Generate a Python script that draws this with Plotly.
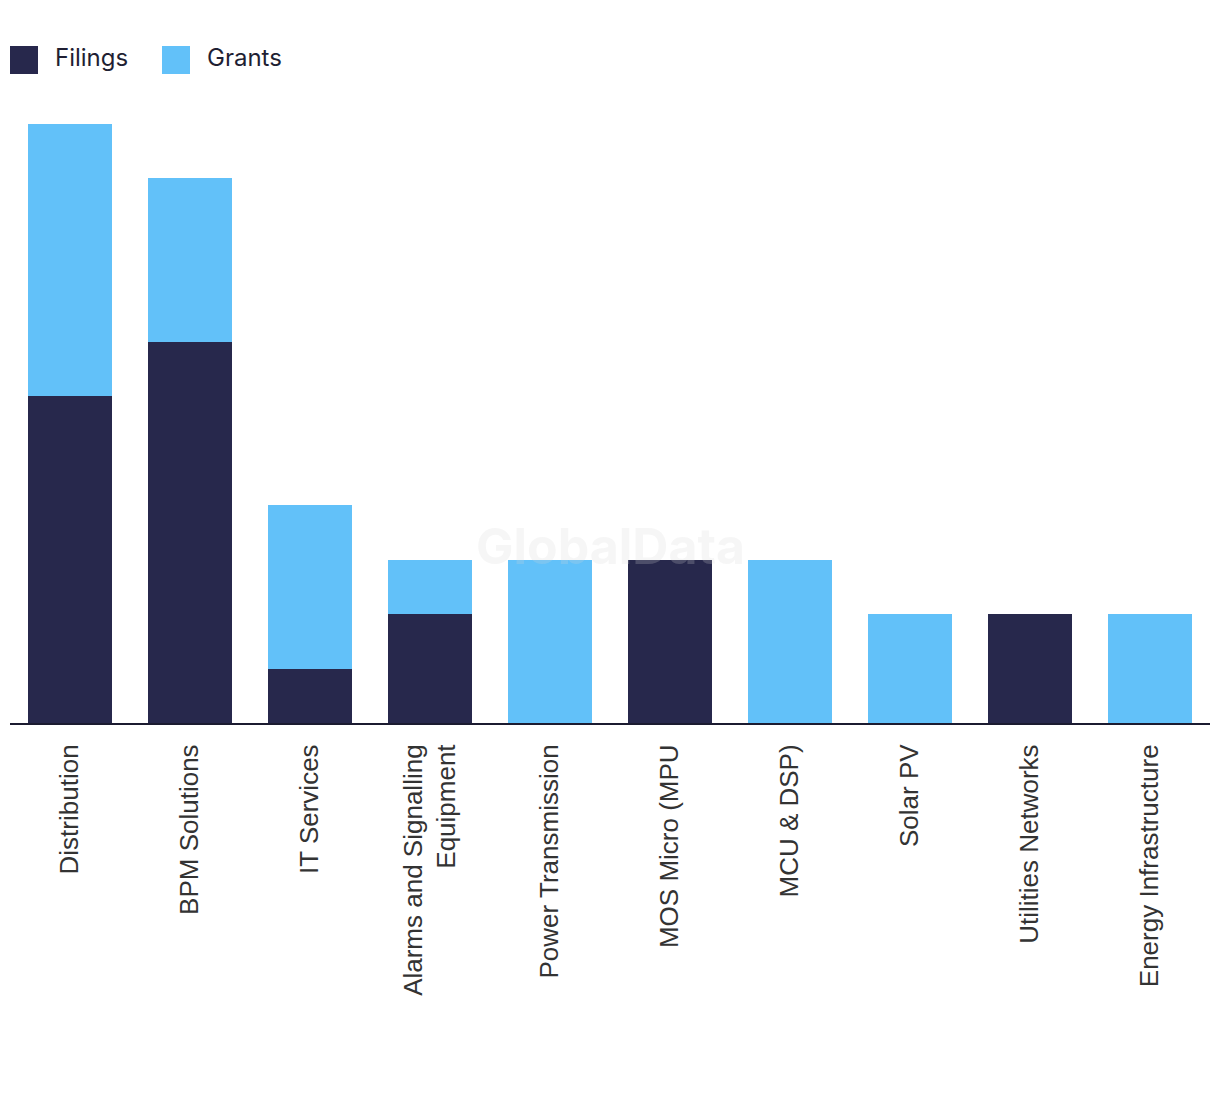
import plotly.graph_objects as go

categories = ["Distribution", "BPM Solutions", "IT Services", "Alarms and Signalling<br>Equipment",
              "Power Transmission", "MOS Micro (MPU", "MCU & DSP)", "Solar PV",
              "Utilities Networks", "Energy Infrastructure"]
filings = [6, 7, 1, 2, 0, 3, 0, 0, 2, 0]
grants = [5, 3, 3, 1, 3, 0, 3, 2, 0, 2]

navy = "#27284C"
blue = "#62C1F9"

fig = go.Figure()
fig.add_trace(go.Bar(x=categories, y=filings, name="Filings", marker=dict(color=navy, line=dict(width=0))))
fig.add_trace(go.Bar(x=categories, y=grants, name="Grants", marker=dict(color=blue, line=dict(width=0))))

PH = 599  # plot height in px
fig.update_layout(
    barmode="stack",
    bargap=0.3,
    width=1220, height=1094,
    margin=dict(l=2, r=18, t=116, b=379),
    paper_bgcolor="white", plot_bgcolor="white",
    showlegend=False,
    font=dict(family="Liberation Sans, Arial, sans-serif", color="#333333"),
    xaxis=dict(tickangle=-90, tickfont=dict(size=26, color="#333333"), showline=True, linecolor="#1b1b30",
               linewidth=2, showgrid=False, ticks="", ticklabelstandoff=9, fixedrange=True),
    yaxis=dict(range=[0, 11], visible=False, showgrid=False, zeroline=False, fixedrange=True),
)

# legend drawn as shapes + text (pixel offsets relative to plot area)
for i, (name, col) in enumerate([("Filings", navy), ("Grants", blue)]):
    x0 = i * 152
    fig.add_shape(type="rect", xref="paper", yref="paper",
                  x0=x0 / 1200, x1=(x0 + 28) / 1200,
                  y0=1 + (124 - 74) / PH, y1=1 + (124 - 46) / PH,
                  fillcolor=col, line=dict(width=0))
    fig.add_annotation(text=name, xref="paper", yref="paper",
                       x=(x0 + 43) / 1200, y=1 + (124 - 57) / PH,
                       xanchor="left", yanchor="middle", showarrow=False,
                       font=dict(family="Inter, Lato, sans-serif", size=24, color="#1f1f33"))

fig.add_annotation(text="<b>GlobalData</b>", xref="paper", yref="paper", x=0.5, y=(723 - 546) / PH,
                   showarrow=False, xanchor="center", yanchor="middle",
                   font=dict(family="Inter, Liberation Sans, sans-serif", size=50, color="rgba(215,215,215,0.22)"))

fig.write_html("out.html")
